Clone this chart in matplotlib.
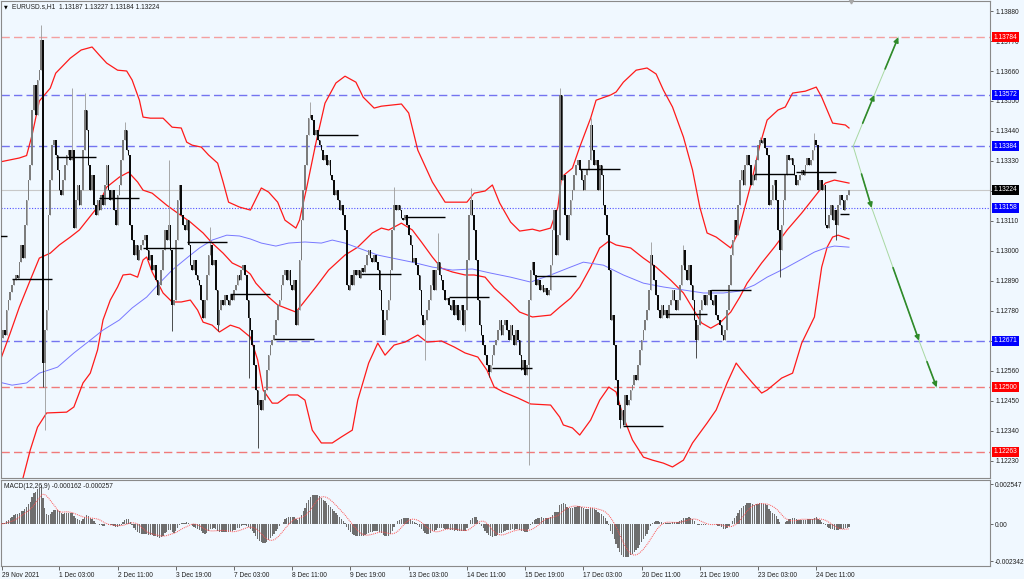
import numpy as np
import pandas as pd
import matplotlib
matplotlib.use("Agg")
from matplotlib import pyplot as plt

plt.rcParams['font.family'] = ['Liberation Sans', 'DejaVu Sans']

''' data (EURUSD.s H1), prices kept as pips above 1.12000 '''
base = 1.12
first_open = 60.0
close_pips = [
    63.7, 68.1, 71.0, 69.2, 78.3, 82.0, 84.9, 87.5, 89.3, 91.2, 90.1, 95.9, 102.2, 97.4, 109.5, 118.7, 126.0, 131.5, 151.7, 160.8, 149.8, 162.7, 166.3, 177.3,
    58.9, 71.0, 78.3, 113.2, 126.0, 138.8, 140.7, 135.2, 129.7, 122.3, 120.5, 126.0, 131.5, 135.2, 137.0, 133.3, 137.0, 108.4, 118.7, 124.2, 116.8, 122.3, 137.0, 151.7,
    144.3, 131.5, 122.3, 127.8, 116.8, 113.2, 118.7, 115.0, 120.5, 116.8, 124.2, 131.5, 122.3, 118.7, 122.3, 115.0, 109.5, 120.5, 124.2, 133.3, 140.7, 144.3, 137.0, 135.2,
    109.5, 104.0, 98.5, 102.2, 96.7, 100.3, 102.2, 104.0, 105.8, 100.3, 96.7, 98.5, 93.0, 94.8, 89.3, 83.8, 87.5, 93.0, 100.3, 107.7, 104.0, 109.5, 100.3, 80.2,
    82.0, 104.0, 118.7, 124.2, 113.2, 109.5, 107.7, 111.3, 102.2, 94.8, 93.0, 96.7, 91.2, 89.3, 87.5, 82.0, 75.4, 82.0, 91.2, 98.5, 102.2, 94.8, 96.7, 85.7,
    72.8, 78.3, 82.0, 80.2, 83.8, 82.0, 80.2, 83.8, 82.0, 85.7, 87.5, 91.2, 89.3, 93.0, 94.8, 91.2, 82.0, 75.4, 71.0, 65.5, 58.2, 49.0, 43.5, 45.3,
    41.7, 45.3, 49.0, 56.3, 61.8, 65.5, 67.3, 69.2, 74.7, 80.2, 82.0, 87.5, 91.2, 93.0, 89.3, 93.0, 87.5, 85.7, 89.3, 72.8, 78.3, 96.7, 111.3, 122.3,
    131.5, 142.5, 148.7, 149.8, 148.0, 142.5, 144.3, 140.7, 138.8, 137.0, 133.3, 135.2, 131.5, 133.3, 127.8, 126.0, 120.5, 122.3, 118.7, 115.0, 116.8, 113.2, 107.7, 87.5,
    85.7, 91.2, 87.5, 93.0, 91.2, 93.0, 90.1, 93.7, 92.3, 94.8, 98.5, 100.3, 97.4, 95.9, 98.5, 95.9, 93.0, 85.7, 78.3, 69.2, 74.7, 78.3, 82.0, 93.0,
    107.7, 116.8, 115.0, 116.8, 115.0, 112.1, 111.3, 113.2, 109.5, 105.8, 102.2, 95.9, 97.4, 94.8, 91.2, 85.7, 76.5, 72.8, 74.7, 78.3, 82.0, 87.5, 93.0, 85.7,
    93.0, 95.9, 91.2, 89.3, 85.7, 82.0, 82.7, 80.2, 78.3, 82.0, 76.5, 80.2, 74.7, 78.3, 80.2, 72.8, 78.3, 96.7, 113.2, 118.7, 113.2, 107.7, 96.7, 82.0,
    72.8, 69.2, 65.5, 61.8, 58.2, 55.6, 58.2, 61.8, 65.5, 67.3, 71.0, 74.7, 69.2, 72.8, 74.7, 71.0, 67.3, 72.8, 69.2, 65.5, 71.0, 67.3, 61.8, 56.3,
    60.0, 54.5, 58.2, 82.0, 93.0, 95.9, 91.2, 87.5, 89.3, 85.7, 87.5, 84.9, 86.4, 83.8, 85.7, 94.8, 107.7, 115.0, 98.5, 105.8, 157.2, 126.0, 127.8, 113.2,
    104.0, 113.2, 118.7, 122.3, 127.8, 131.5, 133.3, 129.7, 126.0, 122.3, 127.8, 129.7, 133.3, 146.2, 137.0, 131.5, 133.3, 122.3, 131.5, 127.8, 116.8, 113.2, 105.8, 93.0,
    74.7, 76.5, 65.5, 52.7, 43.5, 38.0, 41.7, 36.2, 47.2, 43.5, 45.3, 49.0, 50.8, 54.5, 52.7, 58.2, 63.7, 67.3, 71.0, 74.7, 78.3, 85.7, 98.5, 94.8,
    89.3, 83.8, 78.3, 75.4, 80.2, 76.5, 78.3, 75.4, 80.2, 82.0, 85.7, 82.0, 78.3, 82.0, 87.5, 94.8, 100.3, 93.0, 89.3, 94.8, 87.5, 82.0, 74.7, 67.3,
    72.8, 78.3, 82.0, 83.8, 80.2, 83.8, 85.7, 82.0, 80.2, 83.8, 76.5, 74.7, 72.8, 69.2, 67.3, 71.0, 78.3, 87.5, 98.5, 104.0, 111.3, 105.8, 116.8, 126.0,
    129.7, 124.2, 131.5, 135.2, 131.5, 124.2, 127.8, 126.0, 133.3, 138.8, 140.7, 139.6, 141.4, 137.7, 135.2, 116.8, 118.7, 124.2, 126.0, 118.7, 107.7, 100.3, 109.5, 118.7,
    127.8, 135.2, 133.3, 134.1, 131.5, 127.8, 124.2, 126.0, 127.8, 129.7, 127.8, 131.5, 134.1, 131.5, 133.3, 137.0, 140.7, 138.8, 122.3, 126.0, 122.3, 124.2, 109.5, 108.4,
    113.2, 116.8, 111.3, 115.0, 109.5, 116.8, 120.5, 118.7, 115.0, 118.7, 120.5, 122.4,
]
# long wicks (bar -> pips)
wick_high = {23: 182.8, 40: 159.7, 47: 157.9, 69: 147.3, 93: 133.3, 116: 108.8, 171: 154.6, 217: 123.4,
             241: 106.6, 259: 123.1, 308: 159.7, 325: 148.7, 358: 103.3, 376: 102.2, 418: 141.8, 448: 143.2}
wick_low = {24: 50.1, 25: 34.3, 95: 70.6, 120: 70.6, 137: 53.4, 142: 27.7, 211: 70.2, 234: 60.0,
            256: 70.6, 269: 53.8, 291: 21.5, 341: 35.1, 383: 60.7, 429: 90.4, 460: 104.0}

# daily open segments (start bar, end bar, pips)
day_lines = [(-17, 4, 105.5), (7, 29, 89.7), (31, 53, 134.4), (55, 77, 119.4), (79, 101, 101.1),
             (103, 125, 103.3), (127, 149, 84.2), (151, 173, 67.7), (175, 197, 142.5), (199, 221, 91.5),
             (223, 245, 112.4), (247, 269, 83.1), (271, 293, 57.1), (295, 317, 90.8), (319, 341, 130.0),
             (343, 365, 35.8), (367, 389, 76.9), (391, 413, 85.7), (415, 437, 128.2), (438, 460, 128.9),
             (462, 467, 113.5)]

# bollinger bands and moving average (bar, pips)
bb_upper = [(0, 132.6), (11, 134.1), (15, 135.0), (18, 142.5), (22, 155.0), (28, 159.7), (31, 165.2), (39, 170.7),
            (45, 173.7), (51, 174.8), (55, 171.8), (59, 168.9), (65, 166.3), (70, 166.0), (73, 162.7), (77, 155.3),
            (79, 149.1), (83, 148.7), (90, 148.7), (95, 145.4), (100, 145.1), (103, 139.9), (106, 138.8), (111, 138.1),
            (115, 135.2), (120, 132.2), (123, 125.3), (126, 117.9), (132, 116.1), (138, 115.0), (144, 123.1), (148, 121.6),
            (153, 117.9), (157, 111.3), (163, 108.4), (165, 111.3), (169, 123.4), (174, 139.6), (179, 154.2), (185, 161.6),
            (190, 164.1), (196, 161.9), (200, 156.4), (206, 152.4), (210, 153.1), (221, 153.9), (225, 150.6), (230, 137.0),
            (238, 125.3), (245, 117.9), (257, 117.9), (261, 121.2), (267, 122.0), (271, 124.2), (275, 117.6), (281, 110.6),
            (286, 107.3), (293, 108.0), (297, 107.3), (303, 108.4), (307, 116.1), (309, 127.1), (315, 130.4), (319, 138.1),
            (325, 148.7), (328, 155.3), (336, 157.2), (339, 158.3), (343, 161.9), (350, 166.3), (356, 167.1), (361, 164.9),
            (365, 159.0), (370, 152.8), (376, 141.8), (381, 129.7), (385, 116.1), (389, 106.6), (394, 105.1), (402, 101.1),
            (406, 106.6), (413, 124.2), (418, 138.8), (422, 148.0), (428, 151.7), (432, 152.8), (436, 157.9), (443, 158.6),
            (449, 160.1), (452, 156.4), (458, 146.9), (465, 146.2), (467, 145.1)]
bb_middle = [(0, 58.9), (6, 69.9), (11, 79.4), (17, 89.3), (22, 97.4), (28, 99.2), (33, 102.2), (39, 105.1),
             (44, 107.7), (54, 116.1), (59, 123.4), (66, 127.1), (71, 128.9), (76, 125.3), (79, 122.3), (84, 121.2),
             (92, 116.8), (98, 113.9), (105, 110.6), (112, 106.6), (117, 102.9), (123, 99.2), (128, 95.6), (134, 93.7),
             (138, 91.5), (141, 88.2), (148, 83.1), (153, 80.2), (163, 77.6), (167, 80.9), (174, 86.8), (181, 93.0),
             (190, 98.5), (197, 101.4), (205, 106.6), (210, 108.4), (214, 107.7), (221, 110.2), (227, 107.7), (232, 103.3),
             (238, 97.8), (243, 93.7), (249, 92.3), (256, 91.2), (261, 91.2), (267, 90.4), (272, 86.4), (275, 84.6),
             (281, 80.9), (286, 77.6), (293, 75.8), (303, 76.5), (308, 79.4), (314, 82.7), (319, 86.8), (325, 94.1),
             (330, 101.1), (335, 103.6), (339, 102.2), (347, 101.1), (354, 97.4), (361, 94.1), (369, 89.3), (376, 84.6),
             (381, 79.1), (386, 73.6), (391, 71.7), (396, 73.6), (402, 77.6), (407, 83.1), (411, 88.2), (419, 95.6),
             (426, 101.4), (433, 107.7), (441, 113.9), (448, 119.8), (454, 124.9), (459, 126.0), (467, 124.9)]
bb_lower = [(0, -13.3), (7, 1.3), (13, 16.7), (17, 27.0), (21, 35.4), (26, 40.6), (37, 40.9), (41, 42.8),
            (46, 51.6), (50, 55.2), (54, 63.7), (57, 74.7), (61, 82.0), (65, 86.8), (68, 91.2), (72, 91.5),
            (76, 90.4), (79, 96.7), (81, 97.8), (84, 92.3), (90, 84.6), (95, 81.3), (100, 81.3), (105, 82.0),
            (109, 78.3), (112, 73.9), (117, 72.8), (121, 70.3), (127, 72.8), (132, 71.7), (138, 68.4), (142, 60.0),
            (145, 49.0), (150, 44.2), (153, 44.2), (159, 47.2), (164, 47.2), (168, 45.3), (172, 34.3), (177, 29.6),
            (183, 29.6), (188, 31.8), (194, 34.3), (197, 45.3), (203, 58.9), (208, 66.2), (212, 61.8), (217, 65.5),
            (223, 66.6), (230, 69.2), (235, 66.6), (243, 67.0), (250, 64.8), (256, 62.6), (263, 61.1), (268, 56.3),
            (272, 50.1), (277, 48.3), (285, 46.1), (292, 43.9), (303, 43.5), (308, 39.1), (310, 36.2), (315, 35.1),
            (319, 32.5), (325, 38.0), (330, 45.3), (335, 50.1), (339, 48.3), (343, 39.1), (348, 30.7), (354, 24.4),
            (359, 23.3), (365, 22.2), (370, 20.8), (376, 23.3), (381, 29.6), (389, 36.9), (394, 41.7), (400, 51.6),
            (405, 58.9), (408, 56.3), (414, 51.6), (419, 47.9), (422, 49.0), (430, 53.4), (436, 55.2), (441, 66.2),
            (448, 75.8), (452, 94.1), (455, 101.4), (458, 105.1), (461, 105.8), (467, 104.4)]
ma_blue = [(0, 51.9), (7, 50.8), (15, 51.6), (22, 55.2), (32, 57.4), (41, 62.6), (50, 67.3), (57, 71.0),
           (66, 74.7), (73, 79.1), (81, 83.1), (88, 88.2), (95, 93.0), (103, 97.4), (110, 101.1), (117, 104.0),
           (125, 105.8), (132, 105.5), (138, 104.4), (144, 102.9), (152, 101.8), (159, 102.9), (168, 103.3), (177, 102.9),
           (183, 104.0), (190, 102.9), (199, 100.7), (208, 98.5), (216, 97.4), (227, 95.9), (238, 94.1), (249, 93.0),
           (260, 93.4), (270, 91.9), (281, 90.4), (292, 88.6), (303, 91.2), (314, 94.1), (321, 95.9), (332, 94.8),
           (343, 91.2), (354, 88.2), (365, 86.8), (376, 85.7), (387, 84.6), (398, 84.6), (407, 85.3), (415, 87.5),
           (422, 90.4), (432, 93.7), (441, 97.0), (448, 99.6), (454, 101.1), (459, 101.8), (467, 101.4)]

# horizontal levels
red_levels = [1.13784, 1.12500, 1.12263]
blue_levels = [1.13572, 1.13384, 1.12671]
target_level = 1.13158
bid_price = 1.13224

# projection arrows (bar, price)
arrow_origin = (469.3, 1.13384)
up_path = [(480.9, 1.13572), (494.1, 1.13784)]
down_path = [(479.5, 1.13158), (505.5, 1.12671), (515.2, 1.12500)]

price_ticks = [1.12230, 1.12340, 1.12450, 1.12560, 1.12670, 1.12780, 1.12890, 1.13000,
               1.13110, 1.13220, 1.13330, 1.13440, 1.13550, 1.13660, 1.13770, 1.13880]
hidden_ticks = [1.12670, 1.13220]   # covered by the price boxes
date_ticks = [1.4, 33, 65, 97, 129, 161, 193, 225, 257, 289, 321, 353, 385, 417, 449]
date_labels = ['29 Nov 2021', '1 Dec 03:00', '2 Dec 11:00', '3 Dec 19:00', '7 Dec 03:00', '8 Dec 11:00',
               '9 Dec 19:00', '13 Dec 03:00', '14 Dec 11:00', '15 Dec 19:00', '17 Dec 03:00', '20 Dec 11:00',
               '21 Dec 19:00', '23 Dec 03:00', '24 Dec 11:00']
macd_ticks = [0.002547, 0.0, -0.002342]
macd_tick_labels = ['0.002547', '0.00', '-0.002342']

# ---------------------------------------------------------------
W, H = 1024, 579
bg = '#f0f8ff'
fs = 4.8
fig = plt.figure(figsize=(W / 100, H / 100), dpi=100, facecolor=bg)
ax = fig.add_axes([1 / W, (H - 478) / H, 989 / W, 477 / H], facecolor=bg)
axm = fig.add_axes([1 / W, (H - 566) / H, 989 / W, 86 / H], facecolor=bg)
xlim = (0.93, 544.5)


def to_price(p):
    return base + np.asarray(p, dtype=float) / 1e4


close = to_price(close_pips)
x = np.arange(len(close))
open_ = np.r_[to_price(first_open), close[:-1]]
body_lo = np.minimum(open_, close)
body_hi = np.maximum(open_, close)
hi = body_hi.copy()
lo = body_lo.copy()
for i, v in wick_high.items():
    hi[i] = to_price(v)
for i, v in wick_low.items():
    lo[i] = to_price(v)
bull = close >= open_
cols = np.where(bull, '#7c7c7c', '#0a0a0a')
wick_cols = np.where(bull, '#9a9a9a', '#303030')

# levels
for lv in red_levels:
    ax.axhline(lv, color='#f4a0a0' if lv > 1.137 else '#f07a7a', lw=1.0, ls=(0, (6, 3)), zorder=1)
for lv in blue_levels:
    ax.axhline(lv, color='#7474f0', lw=1.0, ls=(0, (6, 3)), zorder=1)
ax.axhline(target_level, color='#5050ff', lw=0.8, ls=(0, (1, 1.5)), zorder=1)
ax.axhline(bid_price, color='#c8c8c8', lw=0.8, zorder=1)

# indicators
for pts, c, lw in [(bb_upper, '#ff1a1a', 0.9), (bb_middle, '#ff1a1a', 0.9),
                   (bb_lower, '#ff1a1a', 0.9), (ma_blue, '#7878ff', 0.7)]:
    a = np.array(pts)
    ax.plot(a[:, 0], to_price(a[:, 1]), color=c, lw=lw, zorder=2)

# candles
ax.vlines(x, lo, hi, colors=wick_cols, lw=0.6, zorder=3)
ax.bar(x, np.maximum(body_hi - body_lo, 0.00002), bottom=body_lo, width=0.9,
       color=cols, linewidth=0, zorder=3)

# daily open segments
for s, e, p in day_lines:
    ax.plot([s, e], [to_price(p)] * 2, color='black', lw=1.0, zorder=4, solid_capstyle='butt')


# projection arrows
def seg(p0, p1):
    ax.plot([p0[0], p1[0]], [p0[1], p1[1]], color='#a8d8a2', lw=0.7, zorder=5)
    mid = (p0[0] + 0.45 * (p1[0] - p0[0]), p0[1] + 0.45 * (p1[1] - p0[1]))
    ax.annotate('', xy=p1, xytext=mid,
                arrowprops=dict(arrowstyle='-|>', color='#2f8a2a', lw=1.2,
                                mutation_scale=7, shrinkA=0, shrinkB=0), zorder=5)


prev = arrow_origin
for p in up_path:
    seg(prev, p)
    prev = p
prev = arrow_origin
for p in down_path:
    seg(prev, p)
    prev = p

ylim = (1.121675, 1.139167)
ax.set_xlim(*xlim)
ax.set_ylim(*ylim)
ax.set_xticks([])
ax.yaxis.tick_right()
ax.set_yticks(price_ticks)
ax.set_yticklabels(['' if t in hidden_ticks else '%.5f' % t for t in price_ticks])
ax.tick_params(axis='y', length=2.5, width=0.6, color='#505050', labelsize=fs, pad=1.2,
               labelcolor='#202020')
for sp in ax.spines.values():
    sp.set_color('#8a8a8a')
    sp.set_linewidth(0.8)

# boxed price labels
tr = ax.get_yaxis_transform()
boxes = [(1.13784, '#ff0000'), (1.13572, '#0000ff'), (1.13384, '#0000ff'), (1.13224, '#000000'),
         (1.13158, '#0000ff'), (1.12671, '#0000ff'), (1.12500, '#ff0000'), (1.12263, '#ff0000')]
for p, c in boxes:
    ax.annotate('%.5f' % p, xy=(1, p), xycoords=tr, xytext=(2.4, 0), textcoords='offset points',
                ha='left', va='center', fontsize=fs, color='white', annotation_clip=False, zorder=10,
                bbox=dict(boxstyle='square,pad=0.25', fc=c, ec='none'))

# chart shift marker
ax.plot([468.1], [ylim[1]], marker='v', ms=3.5, color='#a8a8a8', clip_on=False, zorder=10)


# MACD
def ema(v, n):
    a = 2.0 / (n + 1)
    out = np.empty_like(v)
    out[0] = v[0]
    for i in range(1, len(v)):
        out[i] = a * v[i] + (1 - a) * out[i - 1]
    return out


macd = ema(close, 12) - ema(close, 26)
signal = pd.Series(macd).rolling(9, min_periods=1).mean().values
axm.bar(x, macd, width=0.7, color='#6e6e6e', linewidth=0, zorder=2)
axm.plot(x, signal, color='#ff5050', lw=0.7, ls=(0, (1, 1)), zorder=3)
axm.set_xlim(*xlim)
axm.set_ylim(-0.002656, 0.002822)
axm.yaxis.tick_right()
axm.set_yticks(macd_ticks)
axm.set_yticklabels(macd_tick_labels)
axm.tick_params(axis='y', length=2.5, width=0.6, color='#505050', labelsize=fs, pad=1.2,
                labelcolor='#202020')
axm.set_xticks(date_ticks)
axm.set_xticklabels(date_labels)
axm.tick_params(axis='x', length=3, width=0.6, color='#505050', labelsize=fs, pad=1.5,
                labelcolor='#202020')
for lab in axm.get_xticklabels():
    lab.set_horizontalalignment('left')
for sp in axm.spines.values():
    sp.set_color('#8a8a8a')
    sp.set_linewidth(0.8)

fig.text(4 / W, 1 - 7 / H, '\u25bc', fontsize=3.5, color='black', va='center', ha='left',
         family=['DejaVu Sans'])
fig.text(12 / W, 1 - 7 / H, 'EURUSD.s,H1  1.13187 1.13227 1.13184 1.13224', fontsize=fs,
         color='#202020', va='center', ha='left')
fig.text(4 / W, 1 - 486 / H, 'MACD(12,26,9) -0.000162 -0.000257', fontsize=fs,
         color='#202020', va='center', ha='left')

fig.savefig('out.png', dpi=100, facecolor=bg)
